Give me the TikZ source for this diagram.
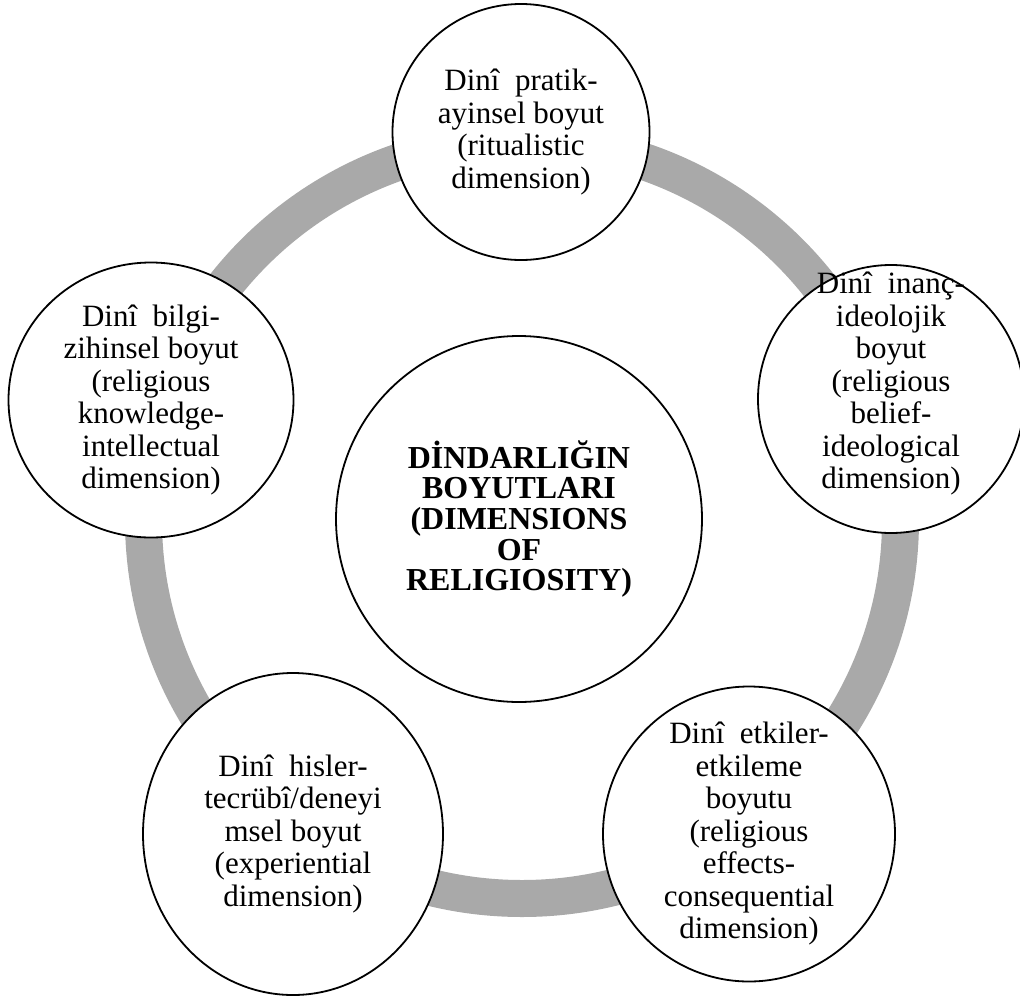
\documentclass[tikz,border=0pt]{standalone}
\usepackage{fontspec}
\setmainfont{Liberation Serif}
\usetikzlibrary{shapes.geometric}
\definecolor{ringgray}{RGB}{169,169,169}
\begin{document}
\begin{tikzpicture}[x=1pt,y=-1pt,
  bubble/.style={ellipse, draw=black, line width=1.8pt, fill=white, inner sep=0pt},
  lbl/.style={align=center, font=\fontsize{31}{32.5}\selectfont, inner sep=0pt},
  hub/.style={align=center, font=\bfseries\fontsize{32}{30.6}\selectfont, inner sep=0pt},
  ring/.style={draw=ringgray, line width=37pt}]
\useasboundingbox (0,0) rectangle (1020,999);
\coordinate (O) at (522,520);
\draw[ring] (O) circle [radius=378.5pt];

\node[bubble, minimum width=366pt, minimum height=366pt] (hubc) at (519,519) {};
\node[hub] (hubt) at (hubc.center) {DİNDARLIĞIN\\BOYUTLARI\\(DIMENSIONS\\OF\\RELIGIOSITY)};

\node[bubble, minimum width=257pt, minimum height=256pt] (top) at (521,132) {};
\node[lbl] (topt) at (top.center) {Dinî\hspace{0.5em}pratik-\\ayinsel boyut\\(ritualistic\\dimension)};

\node[bubble, minimum width=266pt, minimum height=268pt] (right) at (891,399) {};
\node[lbl] (rightt) at ([yshift=15pt]right.center) {Dinî\hspace{0.5em}inanç-\\ideolojik\\boyut\\(religious\\belief-\\ideological\\dimension)};

\node[bubble, minimum width=292pt, minimum height=295pt] (bright) at (749,834) {};
\node[lbl] (brightt) at (bright.center) {Dinî\hspace{0.5em}etkiler-\\etkileme\\boyutu\\(religious\\effects-\\consequential\\dimension)};

\node[bubble, minimum width=300pt, minimum height=322pt] (bleft) at (293,834) {};
\node[lbl] (bleftt) at (bleft.center) {Dinî\hspace{0.5em}hisler-\\tecrübî/deneyi\\msel boyut\\(experiential\\dimension)};

\node[bubble, minimum width=285pt, minimum height=275pt] (left) at (151,400) {};
\node[lbl] (leftt) at (left.center) {Dinî\hspace{0.5em}bilgi-\\zihinsel boyut\\(religious\\knowledge-\\intellectual\\dimension)};
\end{tikzpicture}
\end{document}
